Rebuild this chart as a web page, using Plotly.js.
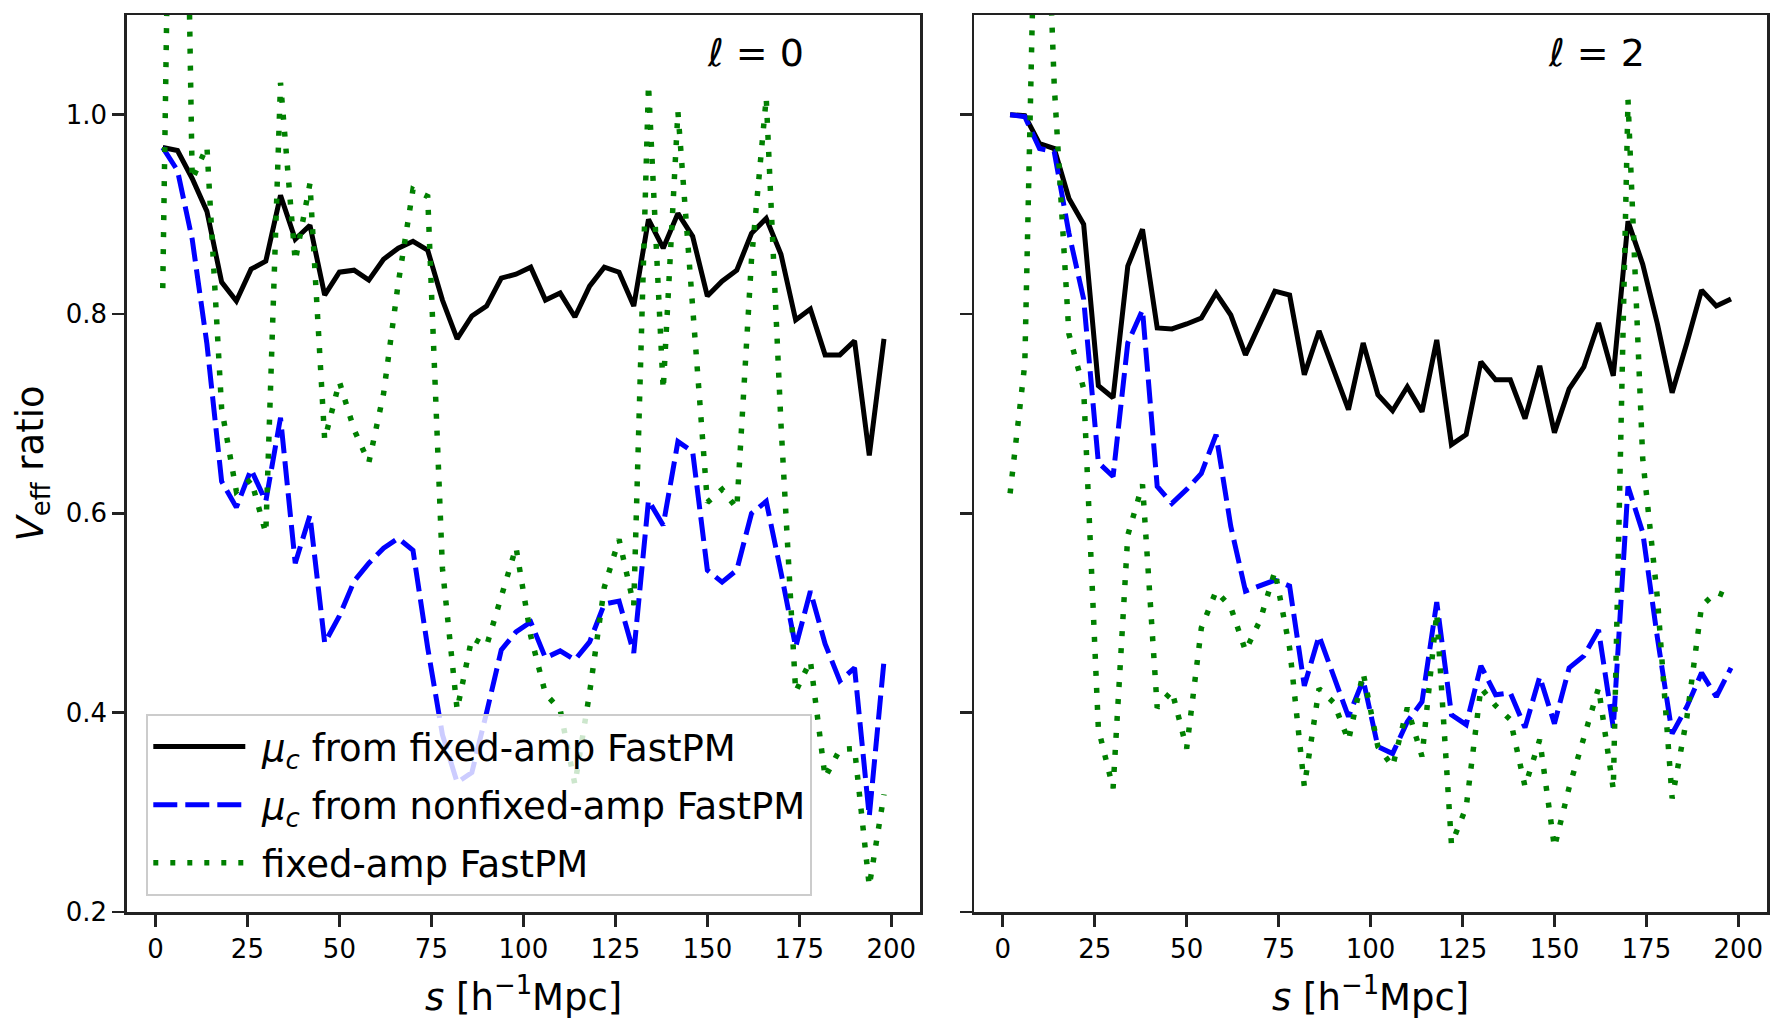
<!DOCTYPE html>
<html>
<head>
<meta charset="utf-8">
<script src="https://cdn.plot.ly/plotly-3.0.1.min.js"></script>
<style>
  html, body { margin: 0; padding: 0; background: #fff; }
  #plot { width: 1782px; height: 1035px; }
</style>
</head>
<body>
<div id="plot"></div>
<script>
// separation bins, h^-1 Mpc
var sBins = [2, 6, 10, 14, 18, 22, 26, 30, 34, 38, 42, 46, 50, 54, 58, 62, 66, 70, 74, 78,
             82, 86, 90, 94, 98, 102, 106, 110, 114, 118, 122, 126, 130, 134, 138, 142, 146, 150, 154, 158,
             162, 166, 170, 174, 178, 182, 186, 190, 194, 198];

// monopole (l = 0)
var monoMuFixed = [0.967, 0.964, 0.936, 0.903, 0.832, 0.813, 0.845, 0.853, 0.919, 0.875,
                   0.889, 0.819, 0.842, 0.844, 0.834, 0.855, 0.866, 0.873, 0.864, 0.814,
                   0.775, 0.798, 0.808, 0.836, 0.840, 0.847, 0.814, 0.821, 0.797, 0.828,
                   0.847, 0.842, 0.808, 0.895, 0.866, 0.901, 0.878, 0.818, 0.833, 0.844,
                   0.881, 0.896, 0.860, 0.794, 0.805, 0.759, 0.759, 0.773, 0.658, 0.775];
var monoMuNonfixed = [0.967, 0.944, 0.875, 0.770, 0.632, 0.606, 0.644, 0.612, 0.696, 0.550,
                      0.598, 0.470, 0.497, 0.532, 0.550, 0.565, 0.575, 0.563, 0.465, 0.378,
                      0.330, 0.340, 0.400, 0.463, 0.481, 0.491, 0.455, 0.462, 0.453, 0.471,
                      0.509, 0.512, 0.460, 0.613, 0.588, 0.672, 0.662, 0.543, 0.531, 0.543,
                      0.600, 0.612, 0.541, 0.466, 0.522, 0.469, 0.432, 0.445, 0.296, 0.452];
var monoFixedAmp = [0.826, 1.850, 0.935, 0.968, 0.705, 0.622, 0.634, 0.580, 1.032, 0.853,
                    0.931, 0.674, 0.732, 0.684, 0.651, 0.720, 0.831, 0.925, 0.918, 0.545,
                    0.403, 0.475, 0.467, 0.517, 0.566, 0.477, 0.419, 0.403, 0.328, 0.420,
                    0.526, 0.574, 0.508, 1.030, 0.724, 1.003, 0.800, 0.611, 0.624, 0.605,
                    0.855, 1.017, 0.690, 0.421, 0.452, 0.335, 0.363, 0.364, 0.226, 0.318];

// quadrupole (l = 2)
var quadMuFixed = [1.000, 0.999, 0.971, 0.966, 0.916, 0.890, 0.728, 0.716, 0.848, 0.885,
                   0.786, 0.785, 0.790, 0.796, 0.821, 0.799, 0.759, 0.791, 0.823, 0.819,
                   0.739, 0.783, 0.743, 0.704, 0.771, 0.719, 0.703, 0.727, 0.702, 0.774,
                   0.669, 0.679, 0.752, 0.734, 0.734, 0.695, 0.748, 0.681, 0.725, 0.747,
                   0.791, 0.738, 0.893, 0.850, 0.790, 0.721, 0.771, 0.824, 0.808, 0.815];
var quadMuNonfixed = [1.000, 0.998, 0.966, 0.963, 0.881, 0.815, 0.651, 0.637, 0.771, 0.804,
                      0.627, 0.610, 0.624, 0.640, 0.679, 0.587, 0.522, 0.528, 0.533, 0.527,
                      0.427, 0.477, 0.436, 0.396, 0.433, 0.366, 0.359, 0.391, 0.411, 0.511,
                      0.398, 0.388, 0.447, 0.418, 0.420, 0.385, 0.436, 0.389, 0.445, 0.457,
                      0.483, 0.385, 0.627, 0.581, 0.475, 0.379, 0.406, 0.440, 0.416, 0.445];
var quadFixedAmp = [0.620, 0.750, 1.433, 1.030, 0.780, 0.725, 0.384, 0.324, 0.578, 0.629,
                    0.405, 0.422, 0.364, 0.485, 0.522, 0.506, 0.462, 0.493, 0.542, 0.465,
                    0.326, 0.424, 0.410, 0.372, 0.440, 0.366, 0.346, 0.405, 0.356, 0.500,
                    0.268, 0.305, 0.425, 0.407, 0.393, 0.326, 0.373, 0.265, 0.325, 0.373,
                    0.425, 0.323, 1.015, 0.655, 0.515, 0.314, 0.395, 0.507, 0.521, 0.515];

var seriesNames = ['<i>μ</i><sub><i>c</i></sub> from fixed-amp FastPM',
                   '<i>μ</i><sub><i>c</i></sub> from nonfixed-amp FastPM',
                   'fixed-amp FastPM'];
var xTicks = [0, 25, 50, 75, 100, 125, 150, 175, 200];
var yTicks = [0.2, 0.4, 0.6, 0.8, 1.0];

var FONT = 'DejaVu Sans, sans-serif';
var AXCOL = '#222222';

var styles = [
  {color: '#000000', width: 5, dash: 'solid'},
  {color: '#0000ff', width: 5, dash: '24px,8px'},
  {color: '#008000', width: 5.5, dash: '5px,12px'}
];

function makeTrace(y, k, xa, ya, show) {
  return {
    x: sBins,
    y: y,
    xaxis: xa,
    yaxis: ya,
    type: 'scatter',
    mode: 'lines',
    name: '&nbsp;' + seriesNames[k],
    legendgroup: 'g' + k,
    showlegend: show,
    line: styles[k],
    hoverinfo: 'x+y'
  };
}

var data = [
  makeTrace(monoMuFixed, 0, 'x', 'y', true),
  makeTrace(monoMuNonfixed, 1, 'x', 'y', true),
  makeTrace(monoFixedAmp, 2, 'x', 'y', true),
  makeTrace(quadMuFixed, 0, 'x2', 'y2', false),
  makeTrace(quadMuNonfixed, 1, 'x2', 'y2', false),
  makeTrace(quadFixedAmp, 2, 'x2', 'y2', false)
];

function xAxis(domain, anchor) {
  return {
    domain: domain,
    anchor: anchor,
    range: [-7.8, 207.8],
    tickvals: xTicks,
    ticks: 'outside',
    ticklen: 12,
    tickwidth: 2.5,
    tickcolor: AXCOL,
    tickfont: {family: FONT, size: 26, color: '#000'},
    showline: true,
    mirror: true,
    linecolor: AXCOL,
    linewidth: 2.5,
    showgrid: false,
    zeroline: false
  };
}

function yAxis(anchor, labels) {
  return {
    domain: [0.1188, 0.9855],
    anchor: anchor,
    range: [0.2, 1.1],
    tickvals: yTicks,
    ticktext: ['0.2', '0.4', '0.6', '0.8', '1.0'],
    showticklabels: labels,
    ticks: 'outside',
    ticklen: 12,
    tickwidth: 2.5,
    tickcolor: AXCOL,
    tickfont: {family: FONT, size: 26, color: '#000'},
    showline: true,
    mirror: true,
    linecolor: AXCOL,
    linewidth: 2.5,
    showgrid: false,
    zeroline: false
  };
}

var layout = {
  width: 1782,
  height: 1035,
  margin: {l: 0, r: 0, t: 0, b: 0},
  paper_bgcolor: '#ffffff',
  plot_bgcolor: '#ffffff',
  font: {family: FONT, color: '#000'},
  xaxis: xAxis([0.0711, 0.5163], 'y'),
  yaxis: yAxis('x', true),
  xaxis2: xAxis([0.5466, 0.9916], 'y2'),
  yaxis2: yAxis('x2', false),
  showlegend: true,
  legend: {
    x: 0.0821, y: 0.3101,
    xanchor: 'left', yanchor: 'top',
    bgcolor: 'rgba(255,255,255,0.8)',
    bordercolor: '#cccccc',
    borderwidth: 2,
    font: {family: FONT, size: 37, color: '#000'},
    itemwidth: 92,
    tracegroupgap: 7
  },
  annotations: [
    {text: 'ℓ = 0', xref: 'x domain', yref: 'y domain', x: 0.792, y: 0.958,
     xanchor: 'center', yanchor: 'middle',
     showarrow: false, font: {family: FONT, size: 38}},
    {text: 'ℓ = 2', xref: 'x2 domain', yref: 'y2 domain', x: 0.785, y: 0.958,
     xanchor: 'center', yanchor: 'middle',
     showarrow: false, font: {family: FONT, size: 38}},
    {text: '<i>s</i> [h<sup>−1</sup>Mpc]', xref: 'x domain', yref: 'paper', x: 0.5, y: 0.0396,
     xanchor: 'center', yanchor: 'middle',
     showarrow: false, font: {family: FONT, size: 37}},
    {text: '<i>s</i> [h<sup>−1</sup>Mpc]', xref: 'x2 domain', yref: 'paper', x: 0.5, y: 0.0396,
     xanchor: 'center', yanchor: 'middle',
     showarrow: false, font: {family: FONT, size: 37}},
    {text: '<i>V</i><sub>eff</sub> ratio', xref: 'paper', yref: 'y domain', x: 0.018, y: 0.5,
     xanchor: 'center', yanchor: 'middle',
     textangle: -90, showarrow: false, font: {family: FONT, size: 37}}
  ]
};

Plotly.newPlot('plot', data, layout, {displayModeBar: false, staticPlot: true});
</script>
</body>
</html>
